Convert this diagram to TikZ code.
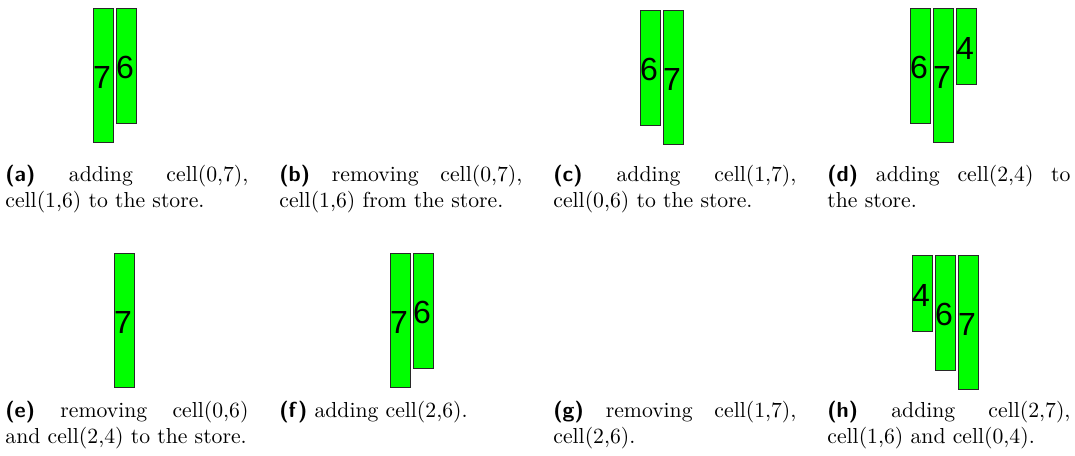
\documentclass[tikz,border=0pt]{standalone}
\usepackage{fontspec}
\newfontfamily\digitfont{Liberation Sans}
\definecolor{cellgreen}{RGB}{0,255,0}
\definecolor{celledge}{RGB}{40,40,40}
\newcommand{\nohyph}{\hyphenpenalty=10000\relax\exhyphenpenalty=10000\relax}
\tikzset{
  cellbar/.style={draw=celledge, fill=cellgreen, line width=1pt, minimum width=20pt, inner sep=0pt, anchor=north west},
  celldigit/.style={font=\digitfont\fontsize{32}{32}\selectfont, inner sep=0pt, anchor=west, yshift=-2pt},
  subcap/.style={text width=112pt, align=justify, inner sep=0pt, anchor=north west, scale=2.17,
    font=\normalsize\nohyph},
}
\newcommand{\lab}[1]{\textsf{\textbf{(#1)}}}
\begin{document}
\begin{tikzpicture}[x=1pt,y=-1pt]
\useasboundingbox (0,0) rectangle (1075,455);
% (a)
\node[cellbar, minimum height=134pt] (a7) at (93,8) {};
\node[cellbar, minimum height=114.6pt] (a6) at (116,8) {};
\node[celldigit] (a7t) at (a7.west) {7};
\node[celldigit] (a6t) at (a6.west) {6};
% (c)
\node[cellbar, minimum height=114.6pt] (c6) at (640,10) {};
\node[cellbar, minimum height=134pt] (c7) at (663,10) {};
\node[celldigit] (c6t) at (c6.west) {6};
\node[celldigit] (c7t) at (c7.west) {7};
% (d)
\node[cellbar, minimum height=114.6pt] (d6) at (910,8) {};
\node[cellbar, minimum height=134pt] (d7) at (933,8) {};
\node[cellbar, minimum height=76.4pt] (d4) at (956,8) {};
\node[celldigit] (d6t) at (d6.west) {6};
\node[celldigit] (d7t) at (d7.west) {7};
\node[celldigit] (d4t) at (d4.west) {4};
% (e)
\node[cellbar, minimum height=134pt] (e7) at (114,253) {};
\node[celldigit] (e7t) at (e7.west) {7};
% (f)
\node[cellbar, minimum height=134pt] (f7) at (390,253) {};
\node[cellbar, minimum height=114.6pt] (f6) at (413,253) {};
\node[celldigit] (f7t) at (f7.west) {7};
\node[celldigit] (f6t) at (f6.west) {6};
% (h)
\node[cellbar, minimum height=76.4pt] (h4) at (912,255) {};
\node[cellbar, minimum height=114.6pt] (h6) at (935,255) {};
\node[cellbar, minimum height=134pt] (h7) at (958,255) {};
\node[celldigit] (h4t) at (h4.west) {4};
\node[celldigit] (h6t) at (h6.west) {6};
\node[celldigit] (h7t) at (h7.west) {7};
% captions
\node[subcap] (capa) at (5,165) {\lab{a} adding cell(0,7), cell(1,6) to the store.};
\node[subcap] (capb) at (279,165) {\lab{b} removing cell(0,7), cell(1,6) from the store.};
\node[subcap] (capc) at (553,165) {\lab{c} adding cell(1,7), cell(0,6) to the store.};
\node[subcap] (capd) at (827,165) {\lab{d} adding cell(2,4) to\linebreak the store.};
\node[subcap] (cape) at (5,401) {\lab{e} removing cell(0,6)\linebreak and cell(2,4) to the store.};
\node[subcap] (capf) at (279,401) {\lab{f} adding cell(2,6).};
\node[subcap] (capg) at (553,401) {\lab{g} removing cell(1,7), cell(2,6).};
\node[subcap] (caph) at (827,401) {\lab{h} adding cell(2,7), cell(1,6) and cell(0,4).};
\end{tikzpicture}
\end{document}
